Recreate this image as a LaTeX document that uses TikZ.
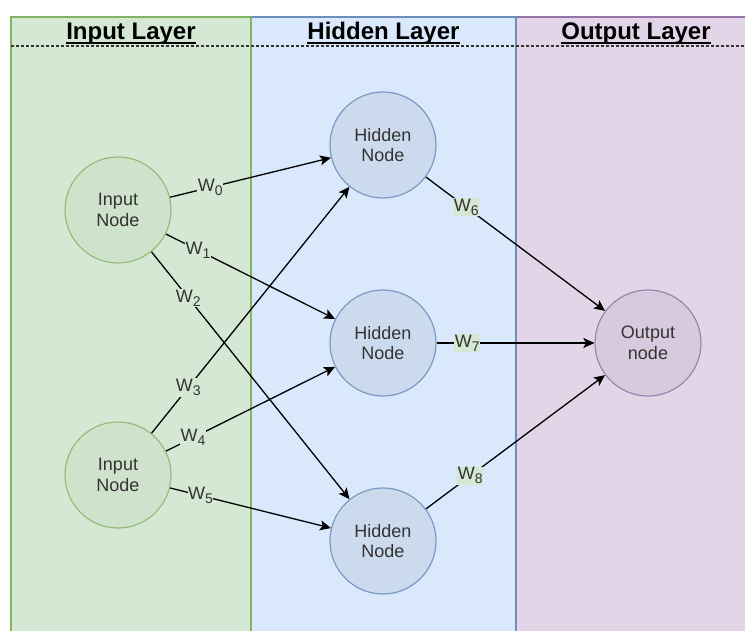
\documentclass[tikz,border=0pt]{standalone}
\usepackage{fontspec}
\setmainfont{Liberation Sans}
\usetikzlibrary{arrows.meta}
\definecolor{gfill}{HTML}{D5E8D4}
\definecolor{gdraw}{HTML}{82B366}
\definecolor{bfill}{HTML}{DAE8FC}
\definecolor{bdraw}{HTML}{6C8EBF}
\definecolor{pfill}{HTML}{E1D5E7}
\definecolor{pdraw}{HTML}{9673A6}
\definecolor{gnode}{HTML}{CFE2CB}
\definecolor{bnode}{HTML}{CCDAEE}
\definecolor{pnode}{HTML}{D8CADE}
\definecolor{txt}{HTML}{333333}
\newcommand{\wlab}[1]{W\raisebox{-4pt}{\fontsize{14}{14}\selectfont #1}}
\newcommand{\ulin}[1]{\setbox0\hbox{#1}\rlap{\rule[-4pt]{\wd0}{1.6pt}}\box0}
\tikzset{
  lane/.style={line width=1.5pt},
  hdr/.style={font=\fontsize{24}{28}\selectfont\bfseries, text=black, inner sep=0pt},
  nodebase/.style={circle, minimum size=106pt, inner sep=0pt, line width=1.2pt, align=center, text=txt, font=\fontsize{18}{20.7}\selectfont},
  innode/.style={nodebase, fill=gnode, draw=gdraw!85!white},
  hidnode/.style={nodebase, fill=bnode, draw=bdraw!90!white},
  outnode/.style={nodebase, fill=pnode, draw=pdraw!90!white},
  conn/.style={draw=black, line width=1.3pt, -{Stealth[length=11pt, width=10pt, inset=2.5pt]}},
  wl/.style={fill=gfill, inner xsep=0.5pt, inner ysep=1pt, text=txt, font=\fontsize{18}{20}\selectfont}
}
\begin{document}
\begin{tikzpicture}[x=1pt,y=-1pt]
\clip (0,0) rectangle (745,631);
\fill[white] (0,0) rectangle (745,631);
% lanes (right to left so left lane borders are on top)
\draw[lane, fill=pfill, draw=pdraw] (516,17) rectangle (756,650);
\draw[lane, fill=bfill, draw=bdraw] (251,17) rectangle (516,650);
\draw[lane, fill=gfill, draw=gdraw] (11,17) rectangle (251,650);
\draw[line width=1.1pt, draw=txt, dash pattern=on 3pt off 2pt] (11,46) -- (745,46);
% headers
\node[hdr, anchor=base] (hin) at (131,40) {\ulin{Input Layer}};
\node[hdr, anchor=base] (hhid) at (383.5,40) {\ulin{Hidden Layer}};
\node[hdr, anchor=base] (hout) at (636,40) {\ulin{Output Layer}};
% nodes
\node[innode] (i1) at (118,210) {Input\\Node};
\node[innode] (i2) at (118,475) {Input\\Node};
\node[hidnode] (h1) at (383,145) {Hidden\\Node};
\node[hidnode] (h2) at (383,343) {Hidden\\Node};
\node[hidnode] (h3) at (383,541) {Hidden\\Node};
\node[outnode] (o) at (648,343) {Output\\node};
% connectors
\draw[conn] (i1) -- node[wl, pos=0.25] (w0) {\wlab{0}} (h1);
\draw[conn] (i1) -- node[wl, pos=0.19] (w1) {\wlab{1}} (h2);
\draw[conn] (i1) -- node[wl, pos=0.186] (w2) {\wlab{2}} (h3);
\draw[conn] (i2) -- node[wl, pos=0.185] (w3) {\wlab{3}} (h1);
\draw[conn] (i2) -- node[wl, pos=0.16] (w4) {\wlab{4}} (h2);
\draw[conn] (i2) -- node[wl, pos=0.19] (w5) {\wlab{5}} (h3);
\draw[conn] (h1) -- node[wl, pos=0.225] (w6) {\wlab{6}} (o);
\draw[conn] (h2) -- node[wl, pos=0.195] (w7) {\wlab{7}} (o);
\draw[conn] (h3) -- node[wl, pos=0.247] (w8) {\wlab{8}} (o);
\end{tikzpicture}
\end{document}
